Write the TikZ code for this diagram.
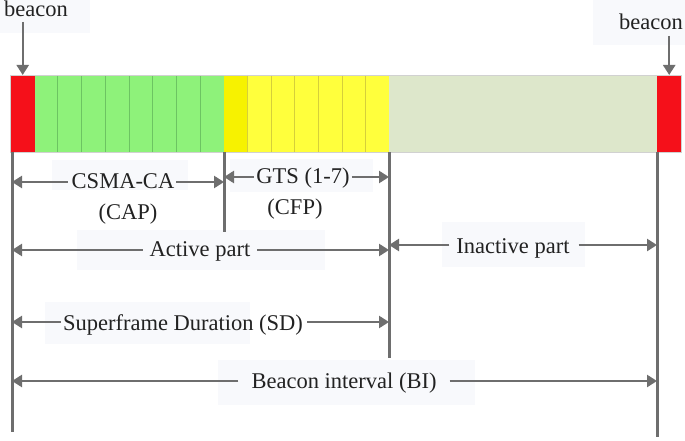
\documentclass[tikz,border=0pt]{standalone}
\usepackage{fontspec}
\setmainfont{Liberation Serif}
\usetikzlibrary{arrows.meta}
\definecolor{bred}{HTML}{F5101A}
\definecolor{bgreen}{HTML}{8EF27A}
\definecolor{bgreendiv}{HTML}{6CC462}
\definecolor{byellow}{HTML}{FFFF3C}
\definecolor{byellowdark}{HTML}{F7F200}
\definecolor{byellowdiv}{HTML}{D6CF3A}
\definecolor{binact}{HTML}{DDE7CB}
\definecolor{linegray}{HTML}{6E6E6E}
\definecolor{labelbg}{HTML}{F8F9FC}
\definecolor{txt}{HTML}{222222}
\begin{document}
\begin{tikzpicture}[x=1pt,y=-1pt,
  lbl/.style={font=\fontsize{22.5}{26}\selectfont, text=txt, inner sep=1pt, anchor=base},
  vline/.style={draw=linegray, line width=3pt},
  arr/.style={draw=linegray, line width=2.6pt, -{Triangle[length=10pt,width=12pt]}},
  bgbox/.style={fill=labelbg, draw=none},
  seg/.style={draw=none, inner sep=0pt, anchor=north west, minimum height=77pt},
  divg/.style={draw=bgreendiv, line width=0.8pt},
  divy/.style={draw=byellowdiv, line width=0.8pt}]
\useasboundingbox (0,0) rectangle (685,441);
% faint label backgrounds
\fill[labelbg] (0,0) rectangle (90,33);
\fill[labelbg] (593,0) rectangle (685,45);
\fill[labelbg] (52,160) rectangle (188,190);
\fill[labelbg] (230,159) rectangle (373,192);
\fill[labelbg] (77,230) rectangle (325,270);
\fill[labelbg] (442,222) rectangle (585,267);
\fill[labelbg] (45,302) rectangle (250,344);
\fill[labelbg] (218,360) rectangle (475,405);
% bar
\node[seg, fill=bgreen, minimum width=190pt] (cap) at (34,75) {};
\node[seg, fill=byellow, minimum width=165pt] (cfp) at (224,75) {};
\node[seg, fill=byellowdark, minimum width=23pt] (cfp1) at (224,75) {};
\node[seg, fill=binact, minimum width=268pt] (inact) at (389,75) {};
\node[seg, fill=bred, minimum width=25pt] (bcn1) at (10,75) {};
\node[seg, fill=bred, minimum width=24pt] (bcn2) at (657,75) {};
\foreach \k in {1,...,7} \draw[divg] (34+\k*23.75,75) -- (34+\k*23.75,152);
\foreach \k in {1,...,6} \draw[divy] (224+\k*23.6,75) -- (224+\k*23.6,152);
\draw[black!18, line width=0.6pt] (10,75) rectangle (681,152);
% vertical lines
\coordinate (L0) at (12,152);  \coordinate (L0e) at (12,432);
\coordinate (L1) at (224,152); \coordinate (L1e) at (224,232);
\coordinate (L2) at (389,152); \coordinate (L2e) at (389,358);
\coordinate (L3) at (657,152); \coordinate (L3e) at (657,437);
\draw[vline] (L0) -- (L0e);
\draw[vline] (L1) -- (L1e);
\draw[vline] (L2) -- (L2e);
\draw[vline] (L3) -- (L3e);
% beacon labels
\node[lbl] (bl1) at (36,17) {beacon};
\node[lbl] (bl2) at (651,30) {beacon};
\draw[arr, line width=2.4pt] (bcn1.north |- 0,22) -- (bcn1.north);
\draw[arr, line width=2.4pt] (bcn2.north |- 0,36) -- (bcn2.north);
% CSMA-CA
\node[lbl] (csma) at (123,188) {CSMA-CA};
\node[lbl] (capl) at (128,219) {(CAP)};
\draw[arr] (csma.west |- 0,182) ++(-3,0) -- (L0 |- 0,182);
\draw[arr] (csma.east |- 0,182) ++(1,0) -- (L1 |- 0,182);
% GTS
\node[lbl] (gts) at (303,183) {GTS (1-7)};
\node[lbl] (cfpl) at (295,214) {(CFP)};
\draw[arr] (gts.west |- 0,177) ++(-1,0) -- (L1 |- 0,177);
\draw[arr] (gts.east |- 0,177) ++(1,0) -- (L2 |- 0,177);
% Active part
\node[lbl] (act) at (200,256) {Active part};
\draw[arr] (act.west |- 0,250) ++(-6,0) -- (L0 |- 0,250);
\draw[arr] (act.east |- 0,250) ++(6,0) -- (L2 |- 0,250);
% Inactive part
\node[lbl] (inl) at (513,253) {Inactive part};
\draw[arr] (inl.west |- 0,245) ++(-6,0) -- (L2 |- 0,245);
\draw[arr] (inl.east |- 0,245) ++(8,0) -- (L3 |- 0,245);
% SD
\node[lbl] (sd) at (183,330) {Superframe Duration (SD)};
\draw[arr] (sd.west |- 0,322) ++(-1,0) -- (L0 |- 0,322);
\draw[arr] (sd.east |- 0,322) ++(3,0) -- (L2 |- 0,322);
% BI
\node[lbl] (bi) at (344,388) {Beacon interval (BI)};
\draw[arr] (bi.west |- 0,381) ++(-12,0) -- (L0 |- 0,381);
\draw[arr] (bi.east |- 0,381) ++(12,0) -- (L3 |- 0,381);
\end{tikzpicture}
\end{document}
